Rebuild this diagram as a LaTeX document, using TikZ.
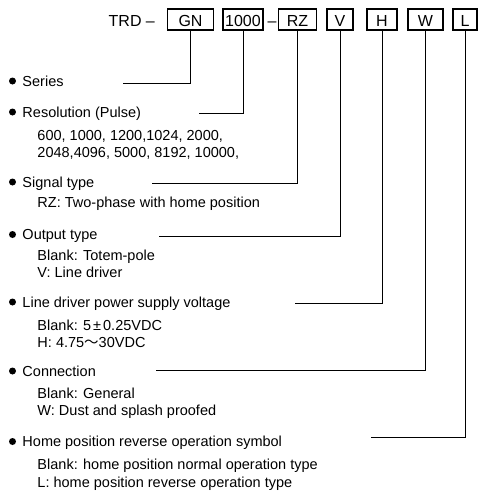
\documentclass[tikz,border=0pt]{standalone}
\usepackage{fontspec}
\setmainfont{Liberation Sans}
\newfontfamily\cjk{Noto Sans CJK SC}
\usetikzlibrary{positioning}

\begin{document}
\begin{tikzpicture}[x=1pt,y=-1pt,line width=1pt,
	code/.style={draw,line width=1.6pt,minimum height=21pt,inner sep=0pt,text height=14pt,text depth=0pt,font=\fontsize{16}{16}\selectfont},
	item/.style={anchor=base west,inner sep=0pt,font=\fontsize{14.5}{16}\selectfont},
	dot/.style={circle,fill,inner sep=0pt,minimum size=7pt}]
	\useasboundingbox (0,0) rectangle (482,493);

	% code boxes
	\node[code,minimum width=46pt] (GN) at (190.5,19.5) {GN};
	\node[code,minimum width=40pt] (RES) at (243,19.5) {1000};
	\node[code,minimum width=38pt] (RZ) at (297.5,19.5) {RZ};
	\node[code,minimum width=26pt] (V) at (340,19.5) {V};
	\node[code,minimum width=30pt] (H) at (382,19.5) {H};
	\node[code,minimum width=35pt] (W) at (425.5,19.5) {W};
	\node[code,minimum width=24pt] (L) at (465,19.5) {L};
	\node[code,draw=none,anchor=east] (TRD) [left=11pt of GN] {TRD --};
	\node[code,draw=none] (dash) at (272,19.5) {--};

	% items
	\node[dot] (d1) at (12.5,81) {};
	\node[item] (series) at (22,86) {Series};
	\node[dot] (d2) at (12.5,112) {};
	\node[item] (resol) at (22,117) {Resolution (Pulse)};
	\node[item] (resol1) at (37,140) {600, 1000, 1200,1024, 2000,};
	\node[item] (resol2) at (37,157) {2048,4096, 5000, 8192, 10000,};
	\node[dot] (d3) at (12.5,182) {};
	\node[item] (signal) at (22,187) {Signal type};
	\node[item] (signal1) at (37,207.5) {RZ: Two-phase with home position};
	\node[dot] (d4) at (12.5,234.5) {};
	\node[item] (output) at (22,239.5) {Output type};
	\node[item] (output1) at (37,260) {Blank: Totem-pole};
	\node[item] (output2) at (37,277) {V: Line driver};
	\node[dot] (d5) at (12.5,302) {};
	\node[item] (supply) at (22,307) {Line driver power supply voltage};
	\node[item] (supply1) at (37,330) {Blank: 5\kern2pt±\kern2pt0.25VDC};
	\node[item] (supply2) at (37,347) {H: 4.75{\cjk ～}30VDC};
	\node[dot] (d6) at (12.5,371) {};
	\node[item] (conn) at (22,376) {Connection};
	\node[item] (conn1) at (37,398) {Blank: General};
	\node[item] (conn2) at (37,415) {W: Dust and splash proofed};
	\node[dot] (d7) at (12.5,441.5) {};
	\node[item] (home) at (22,446.5) {Home position reverse operation symbol};
	\node[item] (home1) at (37,469) {Blank: home position normal operation type};
	\node[item] (home2) at (37,487) {L: home position reverse operation type};

	% connectors
	\coordinate (c1) at (123,83);
	\coordinate (c2) at (199,113);
	\coordinate (c3) at (152,183);
	\coordinate (c4) at (159,236);
	\coordinate (c5) at (295,303);
	\coordinate (c6) at (156,370);
	\coordinate (c7) at (371,437);
	\draw (GN.south) |- (c1);
	\draw (RES.south) |- (c2);
	\draw (RZ.south) |- (c3);
	\draw (V.south) |- (c4);
	\draw (H.south) |- (c5);
	\draw (W.south) |- (c6);
	\draw (L.south) |- (c7);
\end{tikzpicture}
\end{document}
